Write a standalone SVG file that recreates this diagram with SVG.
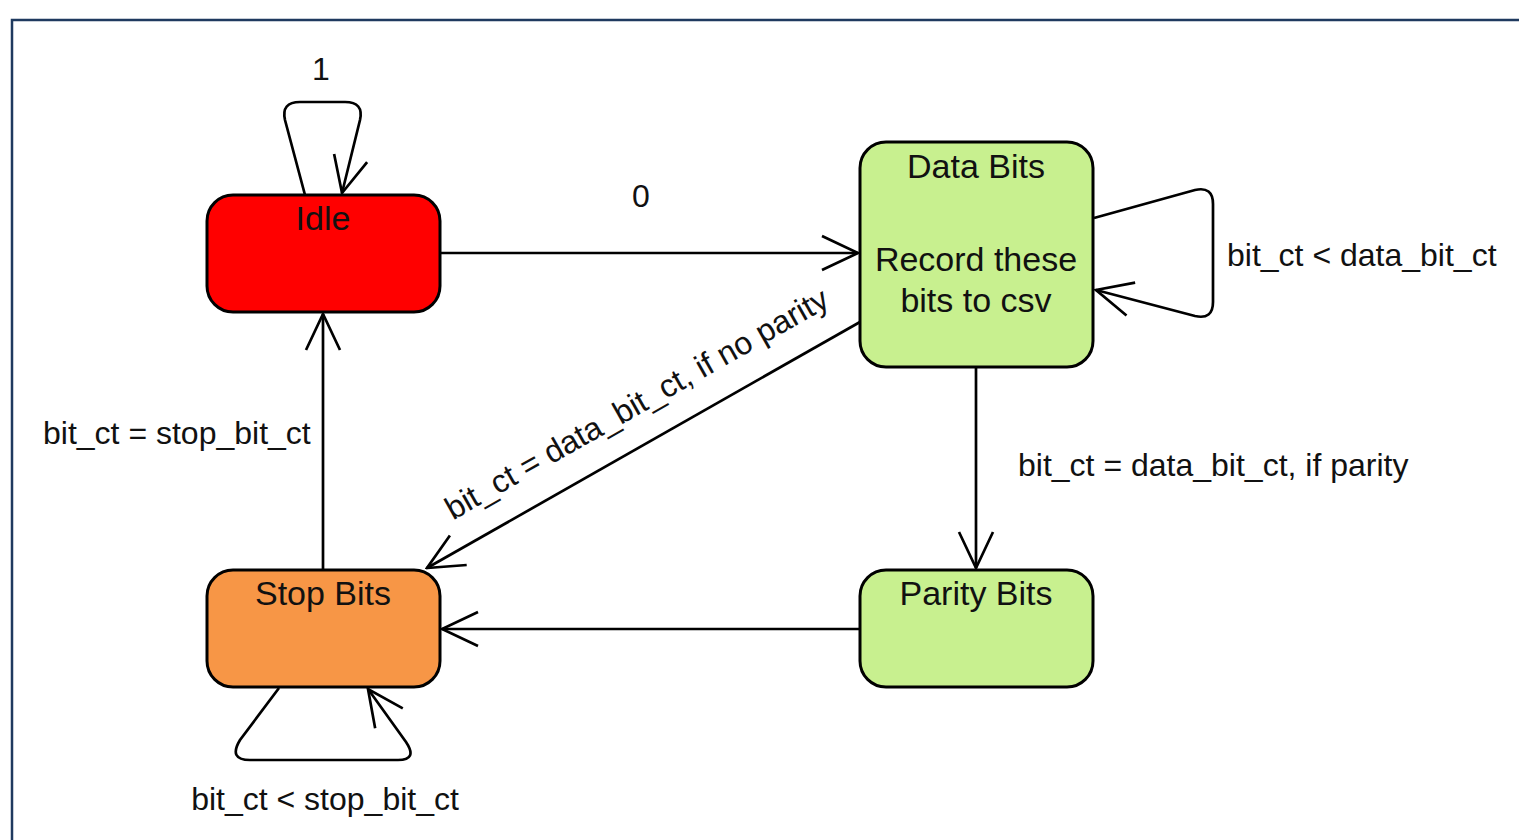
<svg xmlns="http://www.w3.org/2000/svg" width="1519" height="840" viewBox="0 0 1519 840">
  <defs>
    <marker id="open" viewBox="0 0 40 40" refX="38" refY="20" markerWidth="40" markerHeight="40" markerUnits="userSpaceOnUse" orient="auto">
      <path d="M2,3 L38,20 L2,37" fill="none" stroke="#000" stroke-width="2.7"/>
    </marker>
  </defs>
  <style>
    text { font-family: "Liberation Sans", Arial, sans-serif; fill: #111; }
    .node { stroke: #000; stroke-width: 3; }
    .title { font-size: 34px; text-anchor: middle; }
    .lbl { font-size: 32px; }
    .edge { fill: none; stroke: #000; stroke-width: 2.7; marker-end: url(#open); }
  </style>
  <rect x="0" y="0" width="1519" height="840" fill="#fff"/>
  <!-- frame -->
  <path d="M12,840 L12,20 L1519,20" fill="none" stroke="#1f3a5f" stroke-width="2.5"/>

  <g id="connectors">
    <path class="edge" d="M305,195 L285,120 Q281,102 300,102 L345,102 Q364,102 360,120 L342,193"/>
    <path class="edge" d="M440,253 L858,253"/>
    <path class="edge" d="M1094,218 L1195,190 Q1213,186 1213,204 L1213,302 Q1213,320 1195,316 L1096,290"/>
    <path class="edge" d="M976,367 L976,568"/>
    <path class="edge" d="M860,322 L427,568"/>
    <path class="edge" d="M860,629 L442,629"/>
    <path class="edge" d="M323,570 L323,314"/>
    <path class="edge" d="M279,688 L240,740 Q228,760 250,760 L398,760 Q418,760 406,742 L368,689"/>
  </g>

  <g id="idle">
    <rect class="node" x="207" y="195" width="233" height="117" rx="26" fill="#ff0000"/>
    <text class="title" x="323" y="230">Idle</text>
  </g>
  <g id="data-bits">
    <rect class="node" x="860" y="142" width="233" height="225" rx="26" fill="#c8f08f"/>
    <text class="title" x="976" y="178">Data Bits</text>
    <text class="title" x="976" y="271">Record these</text>
    <text class="title" x="976" y="312">bits to csv</text>
  </g>
  <g id="parity-bits">
    <rect class="node" x="860" y="570" width="233" height="117" rx="26" fill="#c8f08f"/>
    <text class="title" x="976" y="605">Parity Bits</text>
  </g>
  <g id="stop-bits">
    <rect class="node" x="207" y="570" width="233" height="117" rx="26" fill="#f79646"/>
    <text class="title" x="323" y="605">Stop Bits</text>
  </g>

  <g id="labels">
    <text class="lbl" x="321" y="80" text-anchor="middle">1</text>
    <text class="lbl" x="641" y="207" text-anchor="middle">0</text>
    <text class="lbl" x="1227" y="266">bit_ct &lt; data_bit_ct</text>
    <text class="lbl" x="1018" y="476">bit_ct = data_bit_ct, if parity</text>
    <text class="lbl" x="43" y="444">bit_ct = stop_bit_ct</text>
    <text class="lbl" x="325" y="810" text-anchor="middle">bit_ct &lt; stop_bit_ct</text>
    <text class="lbl" text-anchor="middle" transform="translate(642,413) rotate(-29.6)">bit_ct = data_bit_ct, if no parity</text>
  </g>
</svg>
